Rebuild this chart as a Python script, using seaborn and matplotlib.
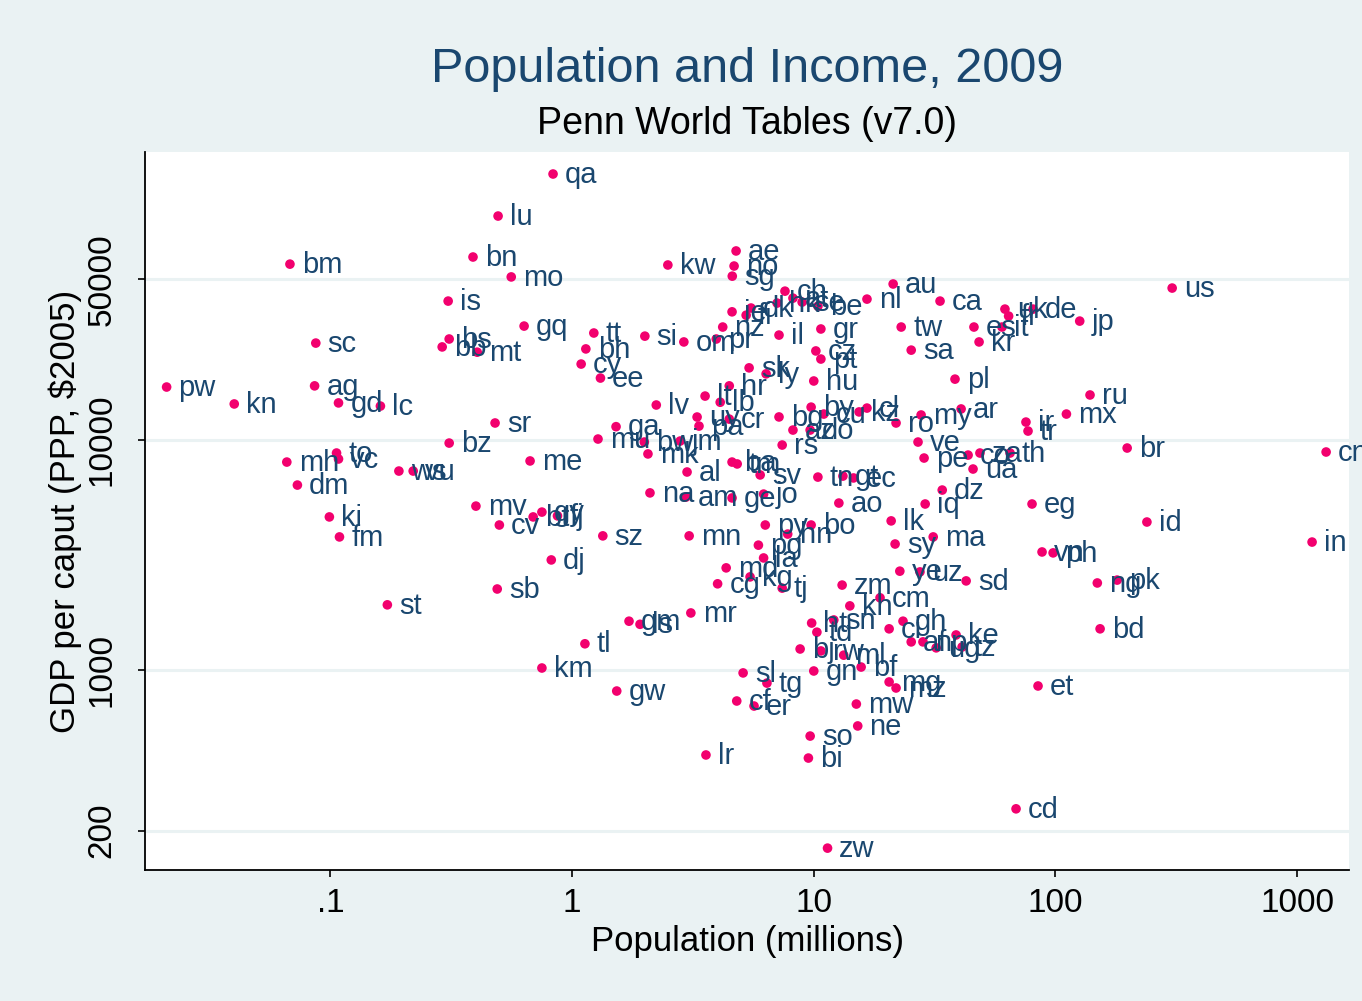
import matplotlib
matplotlib.use("Agg")
import matplotlib.pyplot as plt
import seaborn as sns
import pandas as pd

# country codes, population (millions), GDP per capita (PPP, $2005)
codes = [
    "bm", "sc", "pw", "ag", "kn", "gd", "lc", "to", "vc", "mh", "ws", "vu", "dm", "ki", "fm", "st",
    "qa", "lu", "bn", "mo", "kw", "is", "gq", "bs", "bb", "mt", "tt", "bh", "cy", "ee", "si", "om",
    "pr", "nz", "ae", "no", "sg", "lt", "lb", "hr", "sr", "bz", "me", "mv", "cv", "bt", "gy", "fj",
    "sz", "dj", "sb", "mu", "ga", "bw", "mk", "jm", "lv", "uy", "pa", "cr", "al", "na", "am", "ge",
    "mn", "md", "cg", "mr", "gm", "ls", "tl", "km", "gw", "lr", "sl", "tg", "cf", "er", "bj", "rw",
    "ml", "gn", "bf", "mg", "mz", "mw", "ne", "so", "bi", "zw", "cd", "td", "ht", "sn", "ci", "gh",
    "af", "np", "ug", "tz", "ke", "by", "bg", "cu", "kz", "cl", "ro", "my", "ar", "az", "do", "rs",
    "ve", "pe", "co", "za", "ua", "th", "ir", "tr", "ba", "tm", "sv", "tn", "gt", "ec", "jo", "ao",
    "dz", "iq", "eg", "lk", "py", "hn", "bo", "ma", "sy", "pg", "la", "kg", "tj", "ye", "uz", "sd",
    "zm", "kh", "cm", "ru", "mx", "br", "cn", "id", "in", "vn", "ph", "ng", "pk", "bd", "et", "us",
    "jp", "de", "ch", "at", "ie", "dk", "fi", "hk", "se", "be", "nl", "au", "ca", "gr", "il", "cz",
    "pt", "tw", "sa", "es", "it", "uk", "fr", "kr", "pl", "hu", "sk", "ly",
]
population = [
    0.068, 0.087, 0.021, 0.086, 0.040, 0.108, 0.161, 0.106, 0.108, 0.066, 0.192, 0.220, 0.073, 0.099, 0.109, 0.172,
    0.834, 0.494, 0.389, 0.56, 2.49, 0.307, 0.633, 0.31, 0.29, 0.405, 1.23, 1.14, 1.09, 1.31, 2.0, 2.9,
    3.95, 4.2, 4.77, 4.68, 4.6, 3.55, 4.1, 4.47, 0.48, 0.31, 0.67, 0.40, 0.50, 0.69, 0.75, 0.87,
    1.34, 0.82, 0.49, 1.28, 1.52, 1.99, 2.06, 2.8, 2.23, 3.29, 3.35, 4.47, 2.99, 2.1, 2.96, 4.59,
    3.05, 4.34, 4.0, 3.1, 1.72, 1.91, 1.13, 0.75, 1.53, 3.58, 5.1, 6.4, 4.8, 5.66, 8.78, 10.7,
    13.3, 10.0, 15.7, 20.5, 21.9, 15.0, 15.2, 9.66, 9.5, 11.4, 68.7, 10.3, 9.8, 12.1, 20.5, 23.4,
    25.3, 28.3, 32.1, 41.1, 38.8, 9.75, 7.18, 11.0, 15.4, 16.6, 21.9, 27.8, 40.7, 8.2, 9.66, 7.4,
    27.0, 28.6, 43.5, 48.7, 45.6, 64.9, 75.5, 77.0, 4.59, 4.82, 6.0, 10.4, 13.2, 14.6, 6.2, 12.7,
    34.0, 28.9, 80.0, 20.9, 6.3, 7.8, 9.75, 31.2, 21.7, 5.9, 6.2, 5.45, 7.4, 22.7, 27.5, 42.7,
    13.1, 14.1, 18.8, 139, 111, 198, 1318, 239, 1153, 88, 97.8, 149, 180, 153, 84.7, 304,
    126, 80.8, 7.6, 8.2, 4.59, 5.5, 5.25, 7.05, 8.95, 10.4, 16.6, 21.3, 33.3, 10.7, 7.18, 10.2,
    10.7, 23.0, 25.3, 46.0, 60.1, 61.8, 64.0, 48.3, 38.4, 10.0, 5.4, 6.35,
]
gdp_pc = [
    58200, 26400, 17000, 17200, 14350, 14500, 14050, 8780, 8270, 8020, 7330, 7330, 6370, 4630, 3790, 1920,
    143500, 94200, 62500, 51200, 57700, 40200, 31300, 27500, 25400, 24100, 29200, 24900, 21400, 18600, 28300, 26700,
    27500, 31000, 66400, 57100, 51600, 15530, 14600, 17200, 11860, 9700, 8110, 5160, 4270, 4630, 4860, 4680,
    3830, 3010, 2250, 10100, 11430, 9800, 8700, 9900, 14200, 12590, 11500, 12330, 7260, 5890, 5650, 5600,
    3830, 2780, 2370, 1770, 1630, 1580, 1300, 1020, 810, 427, 971, 877, 733, 697, 1234, 1210,
    1160, 990, 1030, 887, 835, 711, 571, 516, 414, 168, 249, 1460, 1600, 1650, 1510, 1630,
    1325, 1325, 1248, 1259, 1420, 13900, 12600, 12970, 13250, 13770, 11860, 12850, 13650, 11050, 11050, 9510,
    9800, 8350, 8600, 8780, 7480, 8780, 11970, 10940, 8020, 7870, 7050, 6900, 6970, 6840, 5820, 5320,
    6060, 5270, 5270, 4450, 4270, 3900, 4270, 3790, 3530, 3490, 3070, 2540, 2270, 2690, 2670, 2440,
    2340, 1900, 2060, 15700, 12970, 9230, 8870, 4400, 3600, 3260, 3230, 2390, 2460, 1510, 852, 45800,
    32900, 37100, 44400, 41400, 36100, 37500, 34900, 39400, 39800, 38200, 41000, 47700, 40200, 30400, 28600, 24400,
    22500, 31000, 24600, 31000, 31000, 37100, 34600, 26700, 18400, 18060, 20600, 19400,
]

x_ticks = [0.1, 1, 10, 100, 1000]
x_ticklabels = [".1", "1", "10", "100", "1000"]
y_ticks = [200, 1000, 10000, 50000]
y_ticklabels = ["200", "1000", "10000", "50000"]

df = pd.DataFrame({"code": codes, "pop": population, "gdp": gdp_pc})

BG = "#EAF2F3"
NAVY = "#1A476F"
PINK = "#F2006E"

sns.set_style("white")
plt.rcParams["font.family"] = ["Liberation Sans", "DejaVu Sans"]
plt.rcParams["text.color"] = "black"
plt.rcParams["xtick.color"] = "black"
plt.rcParams["ytick.color"] = "black"

fig = plt.figure(figsize=(13.62, 10.01), dpi=100)
fig.patch.set_facecolor(BG)
ax = fig.add_axes([0.1065, 0.1309, 0.884, 0.7171])
ax.set_facecolor("white")

ax.set_xscale("log")
ax.set_yscale("log")
ax.set_xlim(0.0171, 1640)
ax.set_ylim(135, 178600)

for yt in y_ticks:
    ax.axhline(yt, color=BG, lw=2.2, zorder=0)

sns.scatterplot(data=df, x="pop", y="gdp", color=PINK, s=48, edgecolor="none",
                ax=ax, zorder=3, legend=False)

# labels at 3 o'clock, like Stata's mlabel
for _, r in df.iterrows():
    ax.annotate(r["code"], (r["pop"], r["gdp"]), xytext=(8.5, -0.5),
                textcoords="offset points", ha="left", va="center",
                fontsize=21, color=NAVY, zorder=4, annotation_clip=False)

ax.minorticks_off()
ax.set_xticks(x_ticks)
ax.set_xticklabels(x_ticklabels, fontsize=24, color="black")
ax.set_yticks(y_ticks)
ax.set_yticklabels(y_ticklabels, fontsize=24, rotation=90, va="center", color="black")
ax.tick_params(axis="x", length=5, width=1.2, color="black", pad=8, direction="out", bottom=True)
ax.tick_params(axis="y", length=5, width=1.2, color="black", pad=15, direction="out", left=True)

for side in ["top", "right"]:
    ax.spines[side].set_visible(False)
for side in ["left", "bottom"]:
    ax.spines[side].set_color("black")
    ax.spines[side].set_linewidth(1.3)

ax.set_xlabel("")
ax.set_ylabel("")
fig.text(0.5485, 0.059, "Population (millions)", ha="center", va="center",
         fontsize=25, color="black")
fig.text(0.048, 0.489, "GDP per caput (PPP, $2005)", ha="center", va="center",
         rotation=90, fontsize=25, color="black")
fig.text(0.5485, 0.931, "Population and Income, 2009", ha="center", va="center",
         fontsize=35, color=NAVY)
fig.text(0.5485, 0.876, "Penn World Tables (v7.0)", ha="center", va="center",
         fontsize=27, color="black")

fig.savefig("out.png", dpi=100, facecolor=fig.get_facecolor())
